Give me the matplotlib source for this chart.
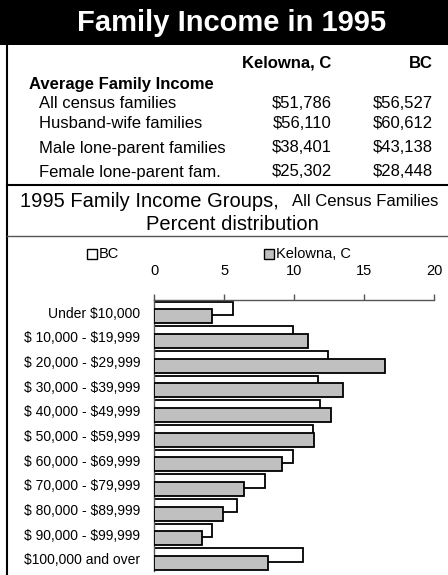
import matplotlib
matplotlib.use("Agg")
import matplotlib.pyplot as plt
from matplotlib.patches import Rectangle
from matplotlib.lines import Line2D

plt.rcParams['font.family'] = ['Liberation Sans', 'DejaVu Sans']
plt.rcParams['text.parse_math'] = False

# ---- data ----
title = "Family Income in 1995"
table_cols = ["Kelowna, C", "BC"]
table_heading = "Average Family Income"
table_rows = ["All census families", "Husband-wife families",
              "Male lone-parent families", "Female lone-parent fam."]
kelowna_income = ["$51,786", "$56,110", "$38,401", "$25,302"]
bc_income = ["$56,527", "$60,612", "$43,138", "$28,448"]

categories = ["Under $10,000", "$ 10,000 - $19,999", "$ 20,000 - $29,999",
              "$ 30,000 - $39,999", "$ 40,000 - $49,999", "$ 50,000 - $59,999",
              "$ 60,000 - $69,999", "$ 70,000 - $79,999", "$ 80,000 - $89,999",
              "$ 90,000 - $99,999", "$100,000 and over"]
bc_pct = [5.6, 9.9, 12.4, 11.7, 11.8, 11.3, 9.9, 7.9, 5.9, 4.1, 10.6]
kelowna_pct = [4.1, 11.0, 16.5, 13.5, 12.6, 11.4, 9.1, 6.4, 4.9, 3.4, 8.1]
xticks = [0, 5, 10, 15, 20]

W, H = 448, 575
fig = plt.figure(figsize=(W / 100, H / 100), dpi=100)


def P(x, y):
    return (x / W, 1 - y / H)


# header
fig.patches.append(Rectangle(P(0, 45), 1, 45 / H, transform=fig.transFigure,
                             facecolor='black', edgecolor='none', zorder=0))
fig.text(*P(232, 23), title, color='white', fontsize=21, fontweight='bold',
         ha='center', va='center')

# left border
fig.add_artist(Line2D([7 / W, 7 / W], [0, 1 - 45 / H], transform=fig.transFigure,
                      color='black', lw=1.5))
# separator lines
fig.add_artist(Line2D([7 / W, 1], [1 - 185 / H] * 2, transform=fig.transFigure,
                      color='black', lw=1.5))
fig.add_artist(Line2D([7 / W, 1], [1 - 236 / H] * 2, transform=fig.transFigure,
                      color='#555555', lw=1.0))

# table
fig.text(*P(331, 63), table_cols[0], fontsize=12, fontweight='bold', ha='right', va='center')
fig.text(*P(433, 63), table_cols[1], fontsize=12, fontweight='bold', ha='right', va='center')
fig.text(*P(29, 84), table_heading, fontsize=12, fontweight='bold', ha='left', va='center')
row_y = [104, 124, 148, 172]
for lab, k, b, y in zip(table_rows, kelowna_income, bc_income, row_y):
    fig.text(*P(39, y), lab, fontsize=12, ha='left', va='center')
    fig.text(*P(332, y), k, fontsize=12, ha='right', va='center')
    fig.text(*P(433, y), b, fontsize=12, ha='right', va='center')

# subtitle
fig.text(*P(20, 201), "1995 Family Income Groups,", fontsize=14.5, ha='left', va='center')
fig.text(*P(292, 202), "All Census Families", fontsize=12, ha='left', va='center')
fig.text(*P(232, 224), "Percent distribution", fontsize=14.5, ha='center', va='center')

# chart
left, right, top, bottom = 154.3, 434.3, 300, 571.3
ax = fig.add_axes([left / W, 1 - bottom / H, (right - left) / W, (bottom - top) / H])
n = len(categories)
pos = list(range(n))
ax.barh([p + 0.34 for p in pos], bc_pct, height=0.54, color='white',
        edgecolor='black', linewidth=1.3, zorder=2, label='BC')
ax.barh([p + 0.66 for p in pos], kelowna_pct, height=0.57, color='#c0c0c0',
        edgecolor='black', linewidth=1.3, zorder=3, label='Kelowna, C')
ax.set_xlim(0, 20)
ax.set_ylim(n, 0)
ax.set_yticks([p + 0.5 for p in pos])
ax.set_yticklabels(categories, fontsize=10)
ax.tick_params(axis='y', length=0, pad=10)
ax.xaxis.tick_top()
ax.set_xticks(xticks)
ax.set_xticklabels([str(t) for t in xticks], fontsize=10.5)
ax.tick_params(axis='x', length=4, color='#555555', width=1, pad=12)
for s in ['right', 'bottom']:
    ax.spines[s].set_visible(False)
for s in ['top', 'left']:
    ax.spines[s].set_color('#555555')
    ax.spines[s].set_linewidth(1.0)
ax.set_facecolor('none')

# legend
fig.patches.append(Rectangle(P(87, 259), 10 / W, 10 / H, transform=fig.transFigure,
                             facecolor='white', edgecolor='black', lw=1))
fig.text(*P(99, 254), "BC", fontsize=10.5, ha='left', va='center')
fig.patches.append(Rectangle(P(264, 259), 10 / W, 10 / H, transform=fig.transFigure,
                             facecolor='#c0c0c0', edgecolor='black', lw=1))
fig.text(*P(276, 254), "Kelowna, C", fontsize=10.5, ha='left', va='center')

fig.savefig("out.png", dpi=100)
